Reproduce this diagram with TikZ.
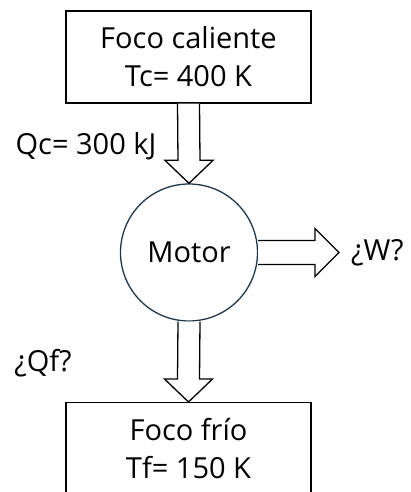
\documentclass[tikz,border=0pt]{standalone}
\usepackage{fontspec}
\setmainfont{Open Sans}
\usetikzlibrary{calc}
\definecolor{circlec}{RGB}{30,55,75}
\begin{document}
\begin{tikzpicture}[x=1pt,y=1pt,
  txt/.style={font=\fontsize{29}{38}\selectfont, inner sep=0pt, align=center},
  box/.style={draw=black, line width=1.4pt, rectangle, inner sep=0pt},
  fat/.style={draw=black, line width=1.3pt, fill=white, line join=miter}]
\useasboundingbox (0,0) rectangle (411,492);
\clip (0,0) rectangle (411,492);
\node[box, txt, minimum width=245pt, minimum height=92pt] (top) at (188.5,435) {Foco caliente\\Tc= 400 K};
\node[circle, draw=circlec, line width=1.3pt, minimum size=137pt, inner sep=0pt, txt] (m) at (189,239.5) {Motor};
\node[box, minimum width=245pt, minimum height=140pt, anchor=north] (bot) at (188.5,90) {};
\node[txt] (botl) at (188.5,43) {Foco frío\\Tf= 150 K};
\node[txt, anchor=center] (qc) at (86,346) {Qc= 300 kJ};
\node[txt] (qf) at (43,129) {¿Qf?};
\node[txt, anchor=west] (w) at (351,239.5) {¿W?};
\coordinate (wtip) at (339,239.5);
% arrow top -> motor
\draw[fat] ($(top.south)+(-11,0)$) -- ($(m.north)+(-11,23)$) -- ($(m.north)+(-24,23)$) -- (m.north)
  -- ($(m.north)+(24,23)$) -- ($(m.north)+(11,23)$) -- ($(top.south)+(11,0)$);
% arrow motor -> bottom
\draw[fat] ($(m.south)+(-11,0)$) -- ($(bot.north)+(-11,23)$) -- ($(bot.north)+(-24,23)$) -- (bot.north)
  -- ($(bot.north)+(24,23)$) -- ($(bot.north)+(11,23)$) -- ($(m.south)+(11,0)$);
% arrow motor -> W
\draw[fat] ($(m.east)+(0,12)$) -- ($(wtip)+(-24,12)$) -- ($(wtip)+(-24,24)$) -- (wtip)
  -- ($(wtip)+(-24,-24)$) -- ($(wtip)+(-24,-12)$) -- ($(m.east)+(0,-12)$);
\end{tikzpicture}
\end{document}
